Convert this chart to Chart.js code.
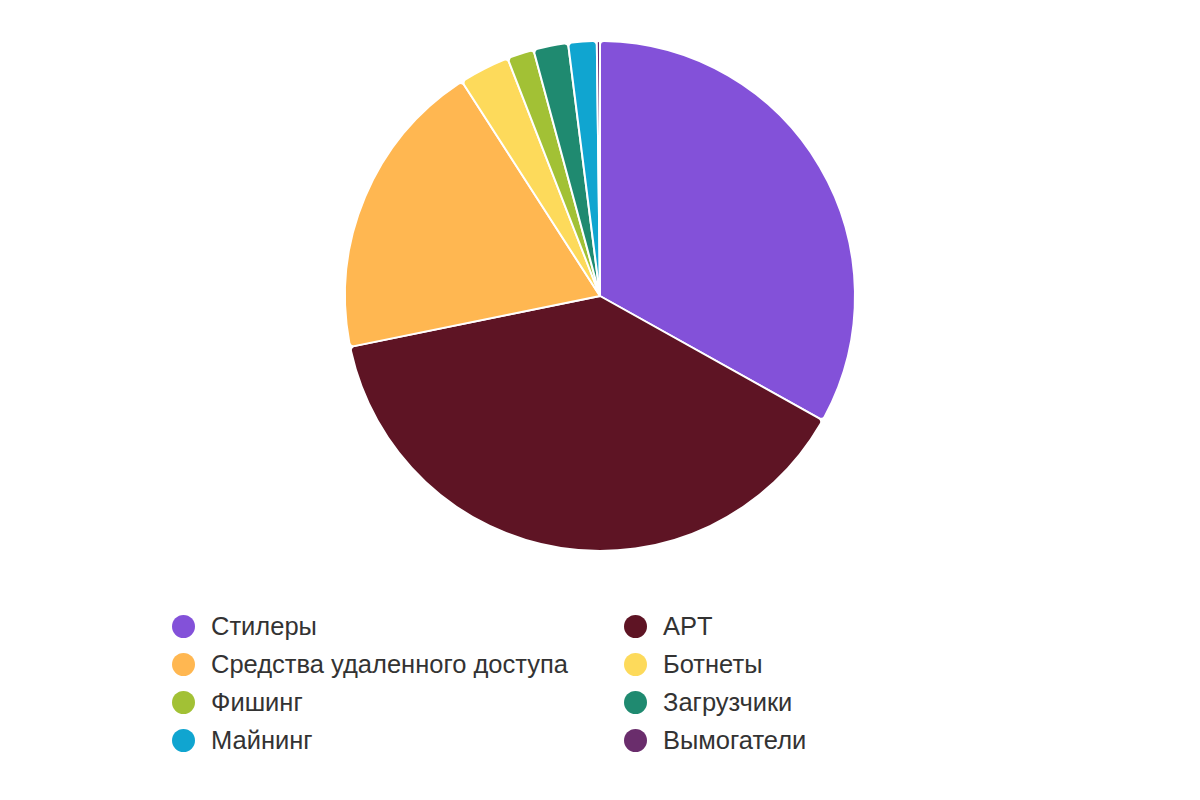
<!DOCTYPE html>
<html lang="ru">
<head>
<meta charset="utf-8">
<title>Pie</title>
<script src="https://cdn.jsdelivr.net/npm/chart.js@4.4.1/dist/chart.umd.min.js"></script>
<style>
    html, body { margin: 0; padding: 0; background: #fff; }
    body { width: 1200px; height: 800px; position: relative; font-family: "Liberation Sans", Arial, sans-serif; }
    #wrap { position: absolute; left: 0; top: 0; width: 1200px; height: 592px; }
    #legend {
        position: absolute; left: 172px; top: 607px;
        display: grid; grid-template-columns: 452px auto; grid-auto-rows: 38px;
    }
    .item { display: flex; align-items: center; font-size: 25.5px; color: #333; white-space: nowrap; }
    .dot { width: 23px; height: 23px; border-radius: 50%; margin-right: 16px; flex: none; }
</style>
</head>
<body>
<div id="wrap"><canvas id="pie"></canvas></div>
<div id="legend"></div>
<script>
// данные
const categories = ['Стилеры', 'APT', 'Средства удаленного доступа', 'Ботнеты', 'Фишинг', 'Загрузчики', 'Майнинг', 'Вымогатели'];
const shares = [33.1, 38.7, 19.1, 3.2, 1.7, 2.2, 1.8, 0.2];
const colors = ['#8351D9', '#5E1424', '#FFB751', '#FDDA5B', '#A2C135', '#1F8A70', '#10A5D0', '#6A2D6C'];

document.addEventListener('DOMContentLoaded', function() {
    const chart = new Chart(document.getElementById('pie'), {
        type: 'pie',
        data: {
            labels: categories,
            datasets: [{
                data: shares,
                backgroundColor: colors,
                borderColor: '#ffffff',
                borderWidth: 2,
                borderRadius: 4
            }]
        },
        options: {
            responsive: true,
            maintainAspectRatio: false,
            animation: false,
            layout: { padding: { top: 40, bottom: 40 } },
            plugins: {
                legend: { display: false },
                tooltip: { enabled: false }
            }
        }
    });

    // HTML legend in two columns
    const legend = document.getElementById('legend');
    chart.data.labels.forEach(function(label, i) {
        const item = document.createElement('div');
        item.className = 'item';
        const dot = document.createElement('span');
        dot.className = 'dot';
        dot.style.background = chart.data.datasets[0].backgroundColor[i];
        item.appendChild(dot);
        item.appendChild(document.createTextNode(label));
        legend.appendChild(item);
    });
});
</script>
</body>
</html>
